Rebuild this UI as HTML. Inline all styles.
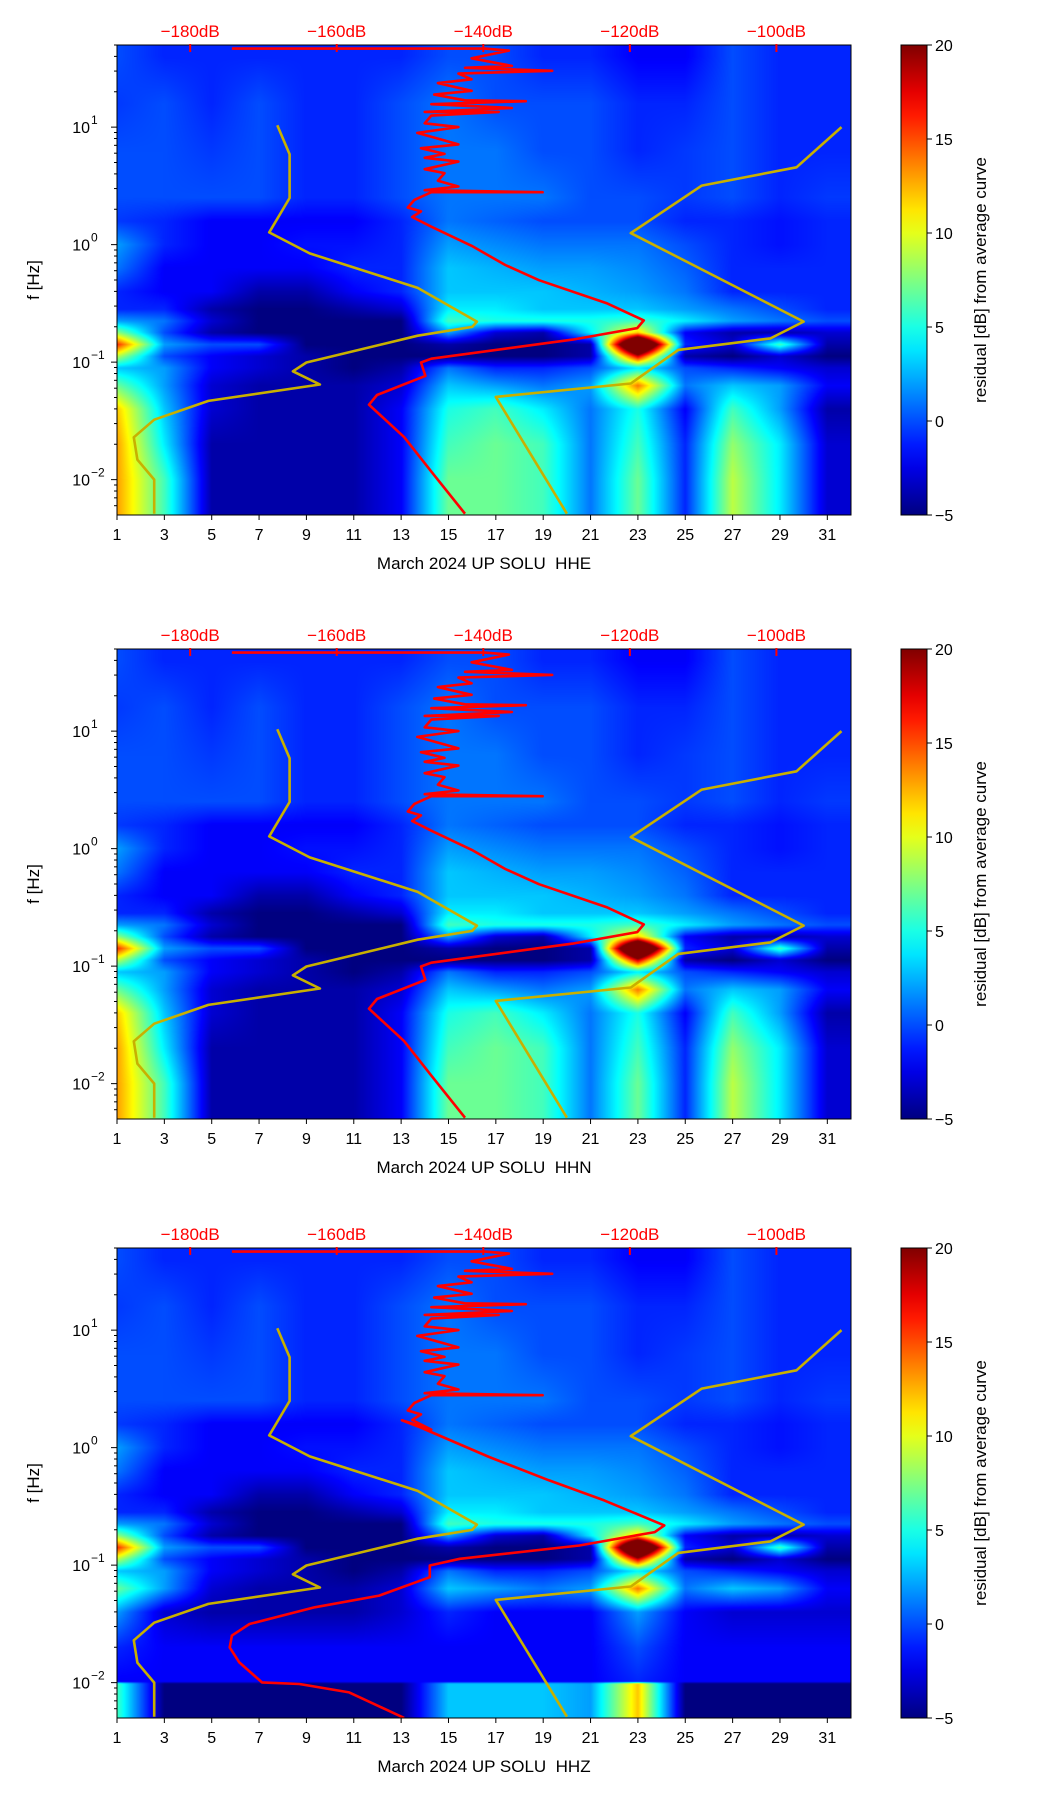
<!DOCTYPE html>
<html><head><meta charset="utf-8">
<style>
html,body{margin:0;padding:0;background:#fff;}
#wrap{position:relative;width:1052px;height:1806px;}
canvas{position:absolute;}
svg{position:absolute;left:0;top:0;}
text{font-family:"Liberation Sans",sans-serif;}
</style></head>
<body>
<div id="wrap">
<svg id="svg" width="1052" height="1806"></svg>
</div>
<script>
// ---- data ----
const panelNames = ["HHE","HHN","HHZ"];
const dayCols = [1,3,5,7,9,11,13,15,17,19,21,23,25,27,29,31];
const rowLogF = [1.6,1.2,0.8,0.4,0.2,0.0,-0.2,-0.4,-0.55,-0.65,-0.75,-0.85,-0.95,-1.05,-1.2,-1.4,-1.7,-2.0,-2.25];
const residualRows = [
[0,-1,-1,-1,-1,-1,-1,0,0,-1,-1,-2,-2,0,-1,-1],
[-0.5,0,-1,0,-1,-1,0,1,0,0,0,-1,-1,0,-1,-1],
[0,0,-0.5,0,-1,-1,0,1,1,0,0,-1,-0.5,0,-1,-1],
[0,0,0,0,-1,-1,0,1,1,1,0,0,-0.5,0,-1,-0.5],
[-0.5,-1,-2,-2,-2,-2,-1,1,0.5,0,0,0,-1,-1,-1.5,-1],
[2,-1,-2,-2,-1.5,-1.5,-1,2,1.5,1,1,1,0,-1,-1.5,-1],
[1,-2,-2,-2,-2,-1,-1,3,2.5,2,2,1.5,0.5,-1,-1,-1],
[-1,-2,-2,-4,-4,-2,-1,3,3,3,2.5,2,1,-1,-1,-1],
[-1,-1,-4,-5,-5,-4,-3,4,4,3,3,3,2,1,0,-1],
[2,1,-3,-5,-5,-5,-5,6,5,5,5,6,4,2,1,0],
[8,0,-4,-5,-5,-5,-5,2,-3,-4,4,12,-2,-4,-4,-3],
[16,2,0,0,-5,-5,-5,-4,-5,-5,-4,35,-1,-3,6,-4],
[9,0,-2,-3,-4,-5,-5,-5,-5,-5,-4,18,-4,-5,-3,-5],
[3,2,-2,-3,-4,-5,-4,1,-1,-1,0,4,0,-1,-2,-3],
[7,2,-3,-4,-4,-4,-3,3,2,1,2,14,1,3,2,-2],
[12,3,-3,-4,-4,-4,-2,5,6,4,1,5,-2,6,2,-4],
[13,4,-4,-4,-4,-4,-2,6,7,6,1,6,-1,8,4,-3],
[13,6,-4,-4,-4,-4,-2,7,7,6,1,7,-1,9,4,-3],
[13,6,-4,-4,-4,-4,-2,7,7,6,1,7,-1,9,4,-3]];
const rowLogFZ = [1.6,1.2,0.8,0.4,0.2,0.0,-0.2,-0.4,-0.55,-0.65,-0.75,-0.85,-0.95,-1.05,-1.2,-1.4,-1.7,-1.99,-2.01,-2.25];
const residualRowsZLow = [
[2,-3,-4,-4,-4,-4,-3,-1,-2,-2,-2,2,-2,-3,-3,-3],
[-1,-2,-2,-2,-2,-2,-2,-2,-2,-2,-2,0,-2,-2,-2,-2],
[-2,-2,-2,-2,-2,-2,-2,-2,-2,-2,-2,-1,-2,-2,-2,-2],
[6,-5,-5,-5,-5,-5,-5,3,3,3,2,12,-5,-5,-5,-5],
[6,-5,-5,-5,-5,-5,-5,3,3,3,2,12,-5,-5,-5,-5]];
// yellow reference curves (day, log10 f)
const yellowLeftDay = [7.77,8.29,8.29,7.43,9.14,13.7,16.2,16.0,13.7,9.0,8.43,9.57,4.86,2.57,1.71,1.86,2.57,2.57];
const yellowLeftLogF = [1.016,0.77,0.397,0.104,-0.075,-0.368,-0.655,-0.70,-0.775,-1.003,-1.078,-1.19,-1.33,-1.49,-1.64,-1.83,-2.0,-2.29];
const yellowRightDay = [20.0,17.0,22.7,24.7,28.6,30.0,22.7,25.7,29.7,31.6];
const yellowRightLogF = [-2.29,-1.296,-1.182,-0.896,-0.798,-0.655,0.098,0.502,0.658,1.0];
// red average curve (dB, log10 f)
const redUpperDB = [-174.3,-139.8,-136.5,-141.6,-136.1,-142.5,-130.6,-143.4,-141.6,-146.2,-141.6,-146.7,-142.5,-134.2,-147.1,-136.1,-148.0,-137.9,-147.1,-148.0,-143.4,-149.0,-146.2,-143.4,-148.5,-145.3,-148.0,-143.4,-148.0,-145.3,-146.2,-143.4,-148.0,-131.9,-147.1,-149.4,-150.3,-148.5,-149.7,-147.1];
const redUpperLogF = [1.668,1.668,1.651,1.586,1.521,1.505,1.479,1.456,1.407,1.375,1.309,1.277,1.228,1.221,1.195,1.163,1.130,1.130,1.098,1.033,1.0,0.951,0.902,0.853,0.821,0.772,0.739,0.707,0.642,0.609,0.544,0.495,0.463,0.446,0.446,0.381,0.316,0.283,0.235,0.153];
const redLowerDB = [-141.6,-137.0,-132.4,-123.2,-118.1,-119.0,-127.8,-147.1,-148.5,-147.9,-154.5,-155.6,-150.8,-147.1,-142.5];
const redLowerLogF = [-0.010,-0.173,-0.303,-0.498,-0.645,-0.710,-0.808,-0.971,-1.003,-1.117,-1.280,-1.362,-1.638,-1.932,-2.29];
const redZLowerDB = [-151.1,-148.7,-139.2,-131.0,-123.5,-115.3,-116.6,-126.9,-143.2,-147.3,-147.3,-154.2,-163.0,-171.9,-174.3,-174.6,-173.3,-170.2,-165.1,-158.3,-150.8];
const redZLowerLogF = [0.233,0.176,-0.08,-0.279,-0.449,-0.662,-0.719,-0.833,-0.946,-1.003,-1.103,-1.259,-1.359,-1.501,-1.60,-1.70,-1.828,-1.998,-2.012,-2.083,-2.30];
const xTickDays = [1,3,5,7,9,11,13,15,17,19,21,23,25,27,29,31];
const yTickExp = [-2,-1,0,1];
const dbTicks = [-180,-160,-140,-120,-100];
const cbTicks = [20,15,10,5,0,-5];

// ---- layout ----
const AX_L=117, AX_R=851, AX_H=470;
const panelTops=[45,649,1248];
const DAY0=1, DAY1=32, LOG0=-2.301, LOG1=1.699;
const VMIN=-5, VMAX=20;
const svg=document.getElementById('svg');
const wrap=document.getElementById('wrap');
const NS='http://www.w3.org/2000/svg';
function el(tag,attrs,parent){const e=document.createElementNS(NS,tag);for(const k in attrs)e.setAttribute(k,attrs[k]);(parent||svg).appendChild(e);return e;}
function xOfDay(d){return AX_L+(d-DAY0)/(DAY1-DAY0)*(AX_R-AX_L);}
function dayOfDB(db){return 4.09+(db+180)*0.3095;}
function yOfLog(top,l){return top+(LOG1-l)/(LOG1-LOG0)*AX_H;}
function jet(v){let t=(v-VMIN)/(VMAX-VMIN);t=Math.max(0,Math.min(1,t));
 const c=x=>Math.max(0,Math.min(1,x));
 return [c(1.5-Math.abs(4*t-3))*255,c(1.5-Math.abs(4*t-2))*255,c(1.5-Math.abs(4*t-1))*255];}
function interp(rowsL,rows,day,l){
 let i=0;while(i<rowsL.length-2&&l<rowsL[i+1])i++;
 let fy=(rowsL[i]-l)/(rowsL[i]-rowsL[i+1]);fy=Math.max(0,Math.min(1,fy));
 let j=0;while(j<dayCols.length-2&&day>dayCols[j+1])j++;
 let fx=(day-dayCols[j])/(dayCols[j+1]-dayCols[j]);fx=Math.max(0,Math.min(1,fx));
 const a=rows[i][j]*(1-fx)+rows[i][j+1]*fx, b=rows[i+1][j]*(1-fx)+rows[i+1][j+1]*fx;
 return a*(1-fy)+b*fy;}

panelNames.forEach((nm,p)=>{
 const top=panelTops[p], W=AX_R-AX_L;
 const rowsL = p===2?rowLogFZ:rowLogF;
 const rows = p===2?residualRows.slice(0,15).concat(residualRowsZLow):residualRows;
 const cv=document.createElement('canvas');
 
 
 cv.width=W;cv.height=AX_H;cv.style.left=AX_L+'px';cv.style.top=top+'px';
 wrap.insertBefore(cv,svg);
 const ctx=cv.getContext('2d');const img=ctx.createImageData(W,AX_H);
 for(let y=0;y<AX_H;y++){const l=LOG1-(y+0.5)/AX_H*(LOG1-LOG0);
  for(let x=0;x<W;x++){const d=DAY0+(x+0.5)/W*(DAY1-DAY0);
   const c=jet(interp(rowsL,rows,d,l));const k=(y*W+x)*4;
   img.data[k]=c[0];img.data[k+1]=c[1];img.data[k+2]=c[2];img.data[k+3]=255;}}
 ctx.putImageData(img,0,0);

 const g=el('g',{});
 
 
 const clipId='clip'+p;
 const cp=el('clipPath',{id:clipId},g);el('rect',{x:AX_L,y:top,width:W,height:AX_H},cp);
 const cg=el('g',{'clip-path':'url(#'+clipId+')'},g);
 function poly(xs,ys,color,name){
  const pts=xs.map((v,i)=>v.toFixed(1)+','+ys[i].toFixed(1)).join(' ');
  const e=el('polyline',{points:pts,fill:'none',stroke:color,'stroke-width':2.6,'stroke-linejoin':'round'},cg);
  
  }
 poly(yellowLeftDay.map(xOfDay),yellowLeftLogF.map(l=>yOfLog(top,l)),'#c8b000','yellow-curve-left');
 poly(yellowRightDay.map(xOfDay),yellowRightLogF.map(l=>yOfLog(top,l)),'#c8b000','yellow-curve-right');
 const lowDB=p===2?redZLowerDB:redLowerDB, lowL=p===2?redZLowerLogF:redLowerLogF;
 const rdb=redUpperDB.concat(lowDB), rl=redUpperLogF.concat(lowL);
 poly(rdb.map(v=>xOfDay(dayOfDB(v))),rl.map(l=>yOfLog(top,l)),'#ff0000','red-average-curve');
 const fr=el('rect',{x:AX_L,y:top,width:W,height:AX_H,fill:'none',stroke:'#000','stroke-width':1},g);
 
 xTickDays.forEach(d=>{const x=xOfDay(d);
  el('line',{x1:x,x2:x,y1:top+AX_H,y2:top+AX_H+5,stroke:'#000'},g);
  const t=el('text',{x:x,y:top+AX_H+25,'font-size':16,'text-anchor':'middle'},g);t.textContent=d;
  });
 const xl=el('text',{x:(AX_L+AX_R)/2,y:top+AX_H+54,'font-size':17,'text-anchor':'middle'},g);
 xl.textContent='March 2024 UP SOLU\u00a0 '+nm;
 
 for(let e=-3;e<=1;e++)for(let m=1;m<10;m++){const l=e+Math.log10(m);if(l<LOG0||l>LOG1)continue;
  const y=yOfLog(top,l);el('line',{x1:AX_L-(m===1?6:3),x2:AX_L,y1:y,y2:y,stroke:'#000'},g);}
 yTickExp.forEach(e=>{const y=yOfLog(top,e);
  const t=el('text',{x:AX_L-27,y:y+6,'font-size':16,'text-anchor':'end'},g);t.textContent='10';
  
  const s=el('text',{x:AX_L-26,y:y-3,'font-size':12,'text-anchor':'start'},g);s.textContent=e<0?'\u2212'+(-e):String(e);});
 const yl=el('text',{x:0,y:0,'font-size':17,'text-anchor':'middle',transform:'translate(39,'+(top+AX_H/2)+') rotate(-90)'},g);
 yl.textContent='f [Hz]';
 dbTicks.forEach(db=>{const x=xOfDay(dayOfDB(db));
  el('line',{x1:x,x2:x,y1:top-1,y2:top+7,stroke:'#ff0000','stroke-width':2},g);
  const t=el('text',{x:x,y:top-8,'font-size':17,'text-anchor':'middle',fill:'#ff0000'},g);t.textContent='\u2212'+(-db)+'dB';
  });
 const CB_X=901,CB_W=26;
 const gid='cbg'+p;const lg=el('linearGradient',{id:gid,x1:0,y1:1,x2:0,y2:0},g);
 for(let i=0;i<=20;i++){const c=jet(VMIN+i/20*(VMAX-VMIN));el('stop',{offset:i/20,'stop-color':'rgb('+c.map(Math.round).join(',')+')'},lg);}
 const cb=el('rect',{x:CB_X,y:top,width:CB_W,height:AX_H,fill:'url(#'+gid+')',stroke:'#000'},g);
 
 cbTicks.forEach(v=>{const y=top+(VMAX-v)/(VMAX-VMIN)*AX_H;
  el('line',{x1:CB_X+CB_W,x2:CB_X+CB_W+5,y1:y,y2:y,stroke:'#000'},g);
  const t=el('text',{x:CB_X+CB_W+8,y:y+6,'font-size':16},g);t.textContent=v<0?'\u2212'+(-v):String(v);
  });
 const cl=el('text',{x:0,y:0,'font-size':17,'text-anchor':'middle',transform:'translate(986,'+(top+AX_H/2)+') rotate(-90)'},g);
 cl.textContent='residual [dB] from average curve';
 
});
</script>
</body></html>
